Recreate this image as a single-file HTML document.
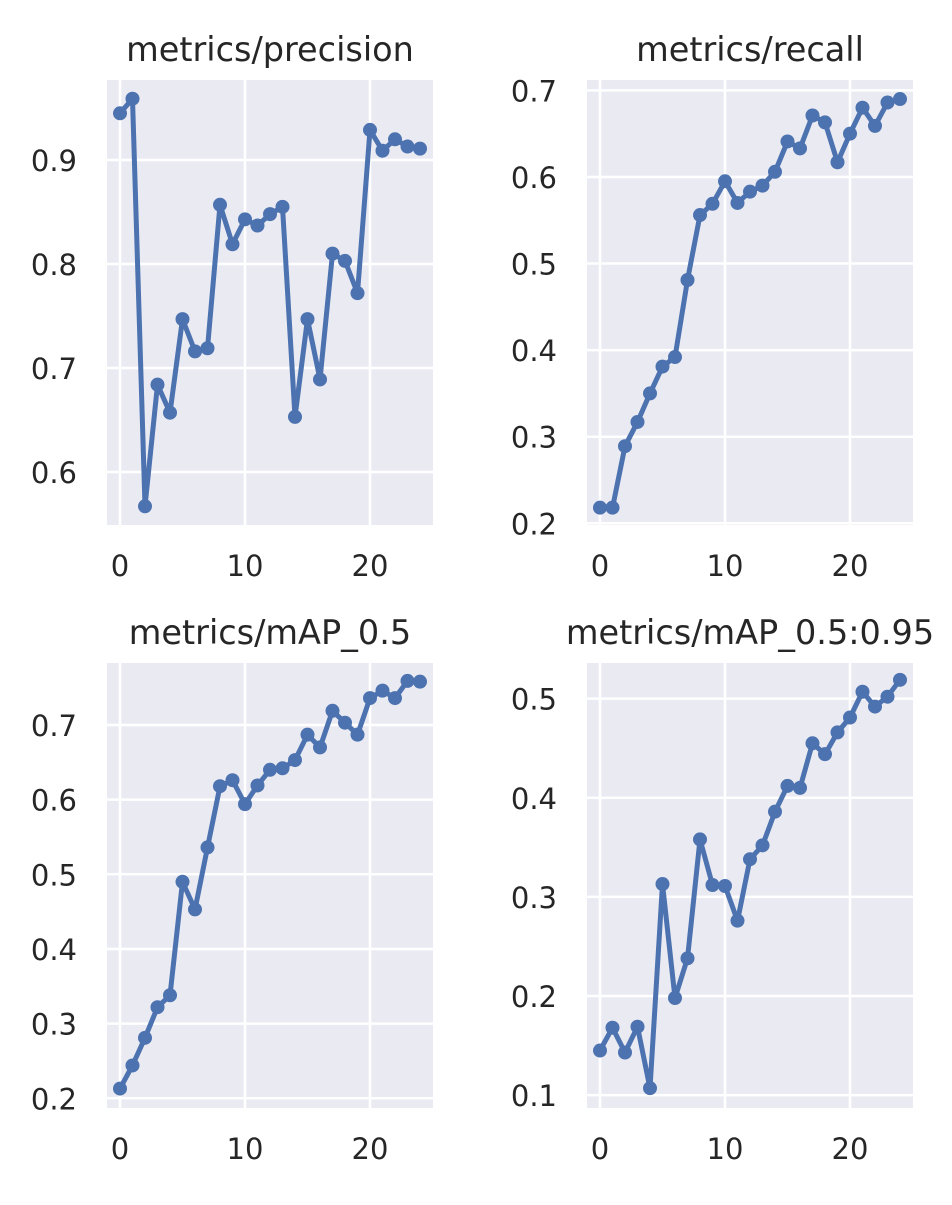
<!DOCTYPE html>
<html><head><meta charset="utf-8"><style>
html,body{margin:0;padding:0;background:#fff;}
svg text{font-family:"DejaVu Sans","Liberation Sans",sans-serif;fill:#262626;}
</style></head><body>
<svg id="chart" width="952" height="1200" viewBox="0 0 952 1200" xmlns="http://www.w3.org/2000/svg"></svg>
<script>
const epochs = [0,1,2,3,4,5,6,7,8,9,10,11,12,13,14,15,16,17,18,19,20,21,22,23,24];
const xTicks = [0,10,20];
const precision = [0.945,0.959,0.567,0.684,0.657,0.747,0.716,0.719,0.857,0.819,0.843,0.837,0.848,0.855,0.653,0.747,0.689,0.810,0.803,0.772,0.929,0.909,0.920,0.913,0.911];
const recall = [0.218,0.218,0.289,0.317,0.350,0.381,0.392,0.481,0.556,0.569,0.595,0.570,0.583,0.590,0.606,0.641,0.633,0.671,0.663,0.617,0.650,0.680,0.659,0.686,0.690];
const map50 = [0.213,0.244,0.281,0.322,0.338,0.490,0.453,0.536,0.618,0.626,0.594,0.619,0.640,0.642,0.653,0.687,0.670,0.719,0.703,0.687,0.736,0.746,0.736,0.759,0.758];
const map5095 = [0.145,0.168,0.143,0.169,0.107,0.313,0.198,0.238,0.358,0.312,0.311,0.276,0.338,0.352,0.386,0.412,0.410,0.455,0.444,0.466,0.481,0.507,0.492,0.502,0.519];
const precisionTicks = [0.6,0.7,0.8,0.9];
const recallTicks = [0.2,0.3,0.4,0.5,0.6,0.7];
const map50Ticks = [0.2,0.3,0.4,0.5,0.6,0.7];
const map5095Ticks = [0.1,0.2,0.3,0.4,0.5];

const panels = [
 {name:'precision',title:'metrics/precision',data:precision,ticks:precisionTicks,x:107,y:80,ymin:0.549,ymax:0.977},
 {name:'recall',title:'metrics/recall',data:recall,ticks:recallTicks,x:587,y:80,ymin:0.198,ymax:0.712},
 {name:'map50',title:'metrics/mAP_0.5',data:map50,ticks:map50Ticks,x:107,y:663,ymin:0.187,ymax:0.783},
 {name:'map5095',title:'metrics/mAP_0.5:0.95',data:map5095,ticks:map5095Ticks,x:587,y:663,ymin:0.087,ymax:0.536}
];
const W=326,H=445,NS='http://www.w3.org/2000/svg';
const svg=document.getElementById('chart');
function mk(tag,attrs,parent){const e=document.createElementNS(NS,tag);for(const k in attrs)e.setAttribute(k,attrs[k]);parent.appendChild(e);return e;}
panels.forEach(p=>{
 const g=mk('g',{},svg);
 
 
 const xs=v=>p.x+(v+1.04)/26.08*W;
 const ys=v=>p.y+(p.ymax-v)/(p.ymax-p.ymin)*H;
 const bg=mk('rect',{x:p.x,y:p.y,width:W,height:H,fill:'#EAEAF2'},g);
 
 
 xTicks.forEach(t=>{
  mk('line',{x1:xs(t),x2:xs(t),y1:p.y,y2:p.y+H,stroke:'#fff','stroke-width':2.5},g);
  const tx=mk('text',{x:xs(t),y:p.y+H+51,'font-size':29,'text-anchor':'middle'},g);
  tx.textContent=t;
  
  
 });
 p.ticks.forEach(t=>{
  mk('line',{x1:p.x,x2:p.x+W,y1:ys(t),y2:ys(t),stroke:'#fff','stroke-width':2.5},g);
  const tx=mk('text',{x:p.x-30,y:ys(t)+11,'font-size':29,'text-anchor':'end'},g);
  tx.textContent=t.toFixed(1);
  
  
 });
 const tt=mk('text',{x:p.x+W/2,y:p.y-19,'font-size':33.5,'text-anchor':'middle'},g);
 tt.textContent=p.title;
 
 
 const pts=p.data.map((v,i)=>xs(epochs[i]).toFixed(1)+','+ys(v).toFixed(1)).join(' ');
 const ln=mk('polyline',{points:pts,fill:'none',stroke:'#4C72B0','stroke-width':5,'stroke-linejoin':'round'},g);
 
 
 p.data.forEach((v,i)=>{
  const c=mk('circle',{cx:xs(epochs[i]),cy:ys(v),r:7,fill:'#4C72B0'},g);
  
  
 });
});
</script>
</body></html>
